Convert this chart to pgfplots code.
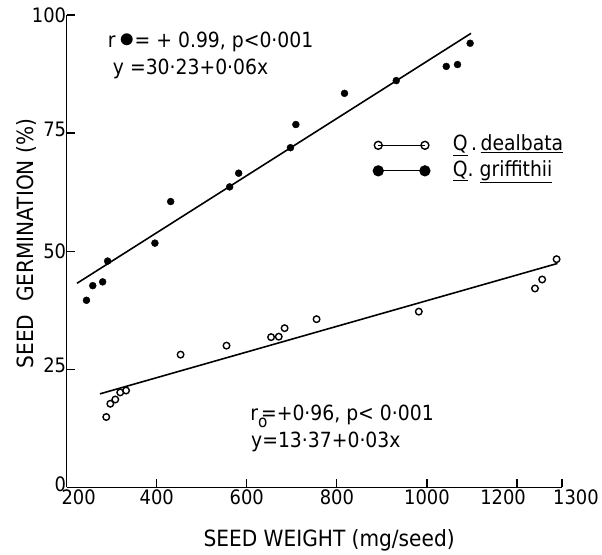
\documentclass[border=0pt]{standalone}
\usepackage{fontspec}
\setmainfont{DejaVu Sans Condensed}
\usepackage{pgfplots}
\pgfplotsset{compat=1.18}

\begin{document}
\begin{tikzpicture}
\begin{axis}[
  width=498pt, height=475pt, scale only axis,
  xmin=200, xmax=1300, ymin=0, ymax=100,
  axis lines=left, axis line style={line width=1.6pt, -},
  tick align=inside, major tick length=8pt,
  tick style={line width=1.3pt, black},
  xtick={200,400,600,800,1000,1200,1300},
  xticklabels={{\hspace*{24pt}200},400,600,800,1000,{1200\hspace*{28pt}},{\hspace*{28pt}1300}},
  ytick={0,25,50,75,100},
  yticklabels={{\raisebox{7pt}{0}},{\raisebox{8pt}{25}},50,{\raisebox{8pt}{75}},{\raisebox{-6pt}{100}}},
  ticklabel style={font=\fontsize{20}{20}\selectfont},
  xticklabel style={yshift=1pt},
  yticklabel style={xshift=3pt},
  xlabel={SEED WEIGHT (mg/seed)},
  ylabel={SEED\ \ GERMINATION (\%)},
  label style={font=\fontsize{22.5}{22.5}\selectfont},
  xlabel style={at={(axis description cs:0.53,-0.1116)}, anchor=center},
  ylabel style={at={(axis description cs:-0.0803,0.516)}, anchor=center},
  clip=false,
]
\coordinate (sw) at (rel axis cs:0,0);

% Q. griffithii
\addplot[only marks, mark=*, mark size=3.5pt, black] coordinates {
  (244,39.6) (258,42.7) (280,43.5) (291,47.9) (396,51.7) (431,60.5)
  (562,63.6) (582,66.5) (697,71.9) (709,76.8) (817,83.4) (932,86.1)
  (1043,89.1) (1068,89.5) (1096,94.0)
};
\addplot[line width=1.6pt, black] coordinates {(223,43.2) (1098,96.1)};

% Q. dealbata
\addplot[only marks, mark=o, mark size=3.3pt, black,
  mark options={line width=1.4pt, fill=white}] coordinates {
  (288,14.9) (297,17.7) (308,18.6) (319,20.1) (332,20.5) (453,28.1)
  (555,30.0) (654,31.8) (671,31.9) (684,33.7) (755,35.6) (982,37.2)
  (1240,42.1) (1256,44.0) (1288,48.3)
};
\addplot[line width=1.6pt, black] coordinates {(274,19.8) (1290,47.4)};

% legend
\addplot[line width=1.3pt, black, mark=o, mark size=4pt,
  mark options={line width=1.4pt, fill=white}] coordinates {(892,72.4) (995.6,72.4)};
\addplot[line width=1.3pt, black, mark=*, mark size=5pt] coordinates {(892,67.0) (995.6,67.0)};
\node[anchor=base west, font=\fontsize{21}{21}\selectfont] at (axis cs:1050,71.2)
  {\underline{Q}\,.\,\underline{dealbata}};
\node[anchor=base west, font=\fontsize{21}{21}\selectfont] at (axis cs:1050,65.9)
  {\underline{Q}.\ \underline{griffithii}};

% regression notes
\node[anchor=base west, font=\fontsize{21}{21}\selectfont] at (axis cs:284,93)
  {r\,\scalebox{1.5}{$\bullet$}= + 0.99, p<0·001};
\node[anchor=base west, font=\fontsize{21}{21}\selectfont] at (axis cs:295,87.4)
  {y =30·23+0·06x};
\node[anchor=base west, font=\fontsize{21}{21}\selectfont] at (axis cs:600,14.1)
  {r\raisebox{-0.3em}{\fontsize{17}{17}\selectfont o}\kern-0.3em=+0·96, p< 0·001};
\node[anchor=base west, font=\fontsize{21}{21}\selectfont] at (axis cs:602,8.4)
  {y=13·37+0·03x};
\end{axis}
\path (sw) ++(-67pt,-60pt) rectangle ++(602pt,550pt);
\end{tikzpicture}
\end{document}
